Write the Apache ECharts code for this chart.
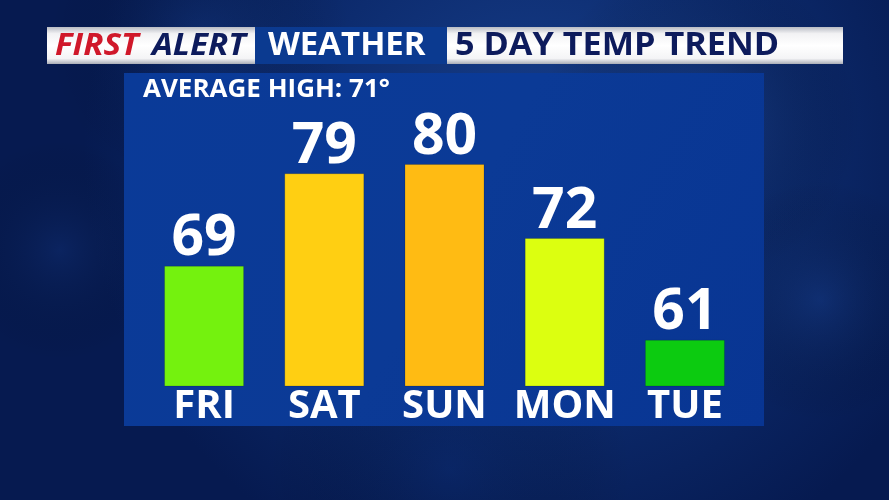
<!DOCTYPE html>
<html>
<head>
<meta charset="utf-8">
<script src="https://cdn.jsdelivr.net/npm/echarts@6/dist/echarts.min.js"></script>
<style>html,body{margin:0;padding:0;background:#0a2464;}#c{width:889px;height:500px;}</style>
</head>
<body>
<div id="c"></div>
<script>
const days = ['FRI', 'SAT', 'SUN', 'MON', 'TUE'];
const highs = [69, 79, 80, 72, 61];
const barColors = ['#74f20e', '#ffcf12', '#ffbb13', '#dcff10', '#0ccb10'];
const titleParts = ['FIRST', 'ALERT', 'WEATHER', '5 DAY TEMP TREND'];
const averageText = 'AVERAGE HIGH: 71°';

const FONT = '"Open Sans", "DejaVu Sans", sans-serif';
const chart = echarts.init(document.getElementById('c'), null, {renderer: 'canvas'});

const whiteGrad = new echarts.graphic.LinearGradient(0, 0, 0, 1, [
  {offset: 0, color: '#b9bcc4'}, {offset: 0.18, color: '#f2f2f4'},
  {offset: 0.5, color: '#ffffff'}, {offset: 0.85, color: '#f4f4f6'}, {offset: 1, color: '#a9adb6'}
]);

const blob = (cx, cy, r, color, op) => ({
  type: 'circle', silent: true, z: -9,
  shape: {cx: cx, cy: cy, r: r},
  style: {fill: new echarts.graphic.RadialGradient(0.5, 0.5, 0.5, [
    {offset: 0, color: color}, {offset: 1, color: 'rgba(0,0,0,0)'}
  ]), opacity: op}
});

const headText = (txt, x, fill, font, sx) => ({
  type: 'text', z: 2, silent: true, x: x, y: 46, scaleX: sx, originX: 0, originY: 0,
  style: {text: txt, fill: fill, font: font, verticalAlign: 'middle'}
});

chart.setOption({
  animation: false,
  backgroundColor: new echarts.graphic.RadialGradient(0.6, 0.3, 0.9, [
    {offset: 0, color: '#173f8c'}, {offset: 0.55, color: '#0c2a6c'}, {offset: 1, color: '#061a50'}
  ]),
  graphic: [
    blob(700, 120, 160, '#2a55a6', 0.35),
    blob(820, 300, 120, '#1d4796', 0.3),
    blob(60, 250, 110, '#1a4190', 0.25),
    blob(450, 470, 180, '#0a2a70', 0.3),
    blob(200, 40, 150, '#1e4a9a', 0.25),
    // panel
    {type: 'rect', z: -5, silent: true, shape: {x: 124, y: 73, width: 640, height: 353},
     style: {fill: new echarts.graphic.LinearGradient(0, 0, 1, 1, [
       {offset: 0, color: '#0a3a98'}, {offset: 0.5, color: '#0b3a96'}, {offset: 1, color: '#083593'}
     ])}},
    // header boxes
    {type: 'rect', z: 1, silent: true, shape: {x: 47, y: 27, width: 208, height: 37}, style: {fill: whiteGrad}},
    {type: 'rect', z: 1, silent: true, shape: {x: 255, y: 27, width: 192, height: 37}, style: {fill: '#0b3a90'}},
    {type: 'rect', z: 1, silent: true, shape: {x: 447, y: 27, width: 396, height: 37}, style: {fill: whiteGrad}},
    headText(titleParts[0], 55, '#d0182a', 'italic bold 31px ' + FONT, 1.07),
    headText(titleParts[1], 152, '#0d1b5c', 'italic bold 31px ' + FONT, 1.07),
    headText(titleParts[2], 268, '#ffffff', 'bold 32px ' + FONT, 1.03),
    headText(titleParts[3], 455, '#0d1b5c', 'bold 32px ' + FONT, 1.07),
    {type: 'text', z: 2, silent: true, x: 143, y: 90, scaleX: 1.04, originX: 0, originY: 0,
     style: {text: averageText, fill: '#ffffff', font: 'bold 25px ' + FONT, verticalAlign: 'middle'}}
  ],
  grid: {left: 144, width: 601, top: 164, bottom: 114, containLabel: false},
  xAxis: {
    type: 'category', data: days,
    axisLine: {show: false}, axisTick: {show: false},
    axisLabel: {interval: 0, color: '#ffffff', fontFamily: FONT, fontWeight: 'bold', fontSize: 40, margin: 1, lineHeight: 40}
  },
  yAxis: {type: 'value', min: 56, max: 80, show: false, splitLine: {show: false}},
  series: [{
    type: 'bar', barWidth: 80,
    data: highs.map((v, i) => ({value: v, itemStyle: {color: barColors[i]}})),
    itemStyle: {borderColor: 'rgba(0,0,0,0.15)', borderWidth: 1},
    label: {show: true, position: 'top', distance: -2, color: '#ffffff',
      fontFamily: FONT, fontWeight: 'bold', fontSize: 57, lineHeight: 57}
  }]
});
</script>
</body>
</html>
